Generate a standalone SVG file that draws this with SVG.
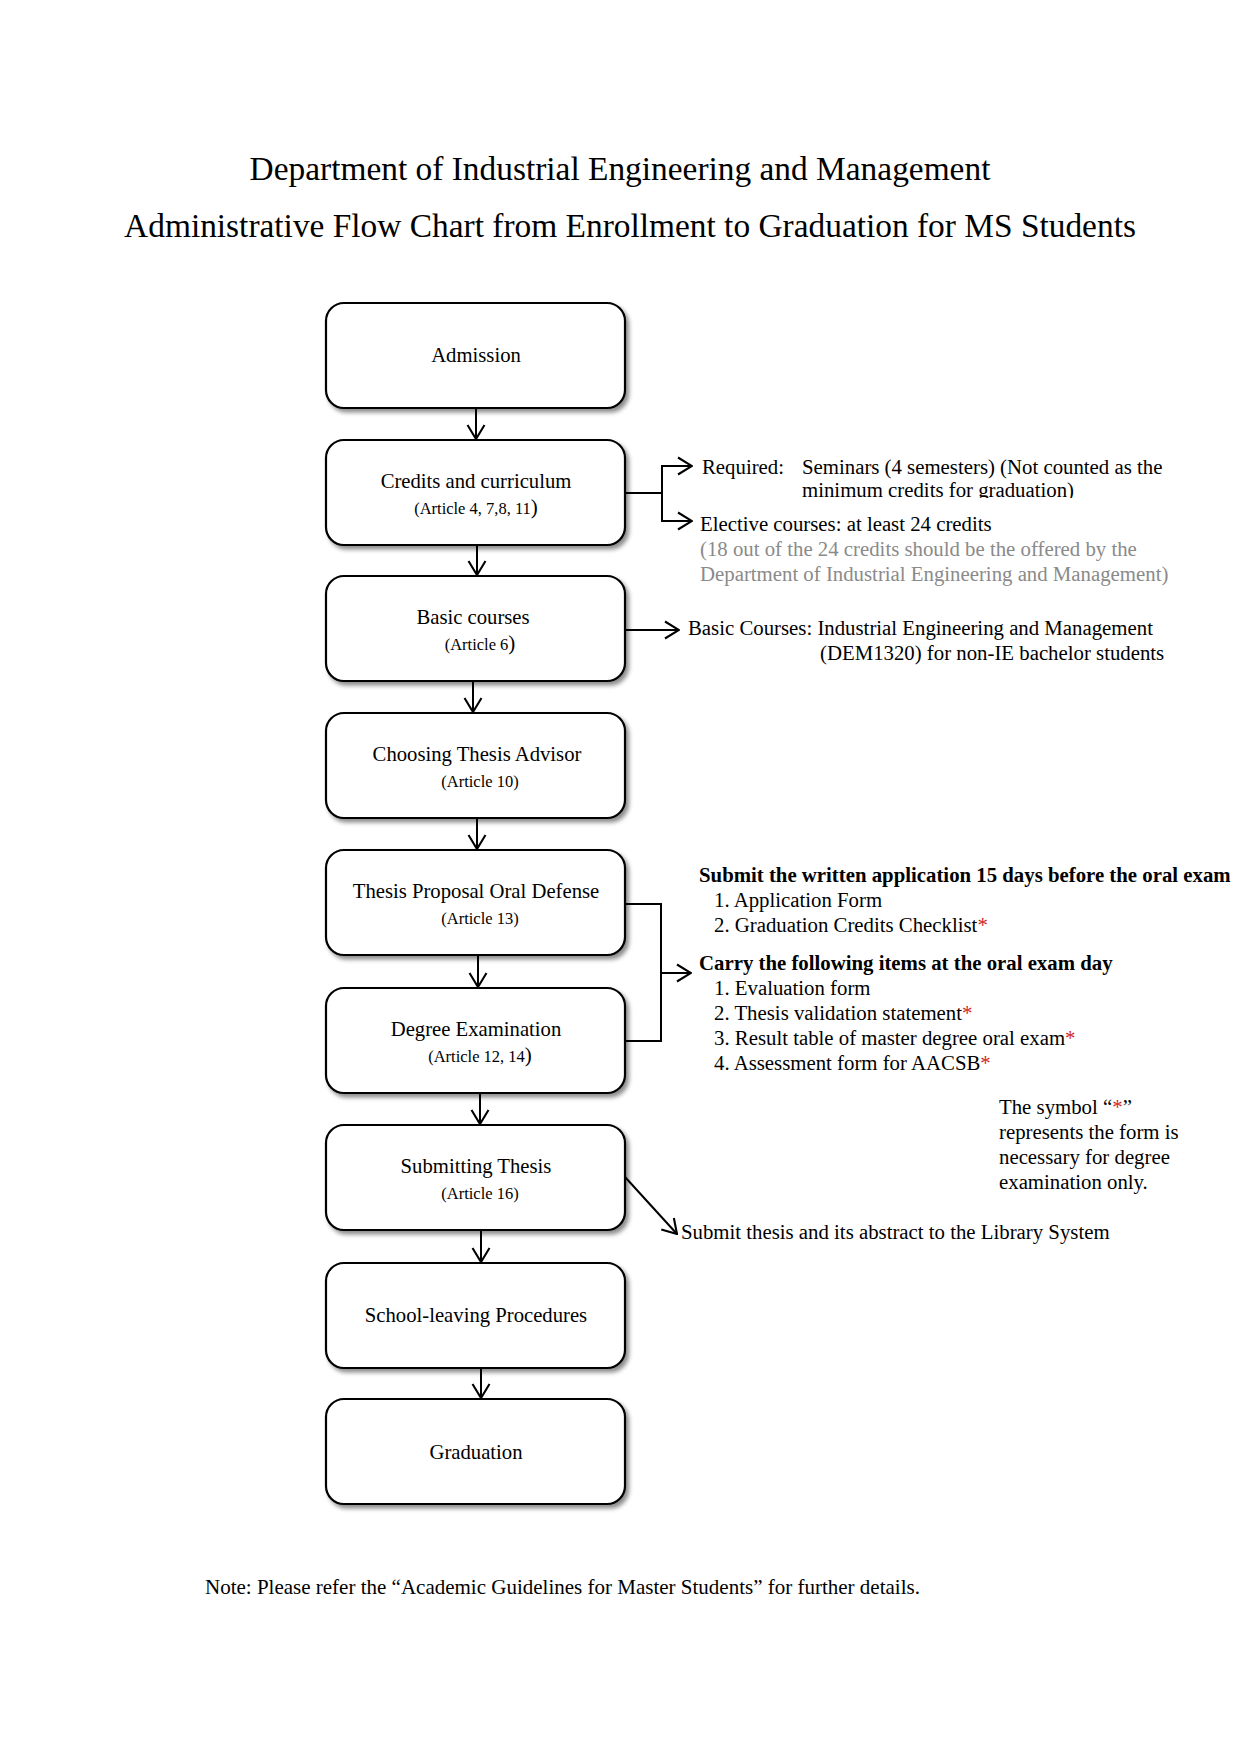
<svg xmlns="http://www.w3.org/2000/svg" width="1241" height="1755" viewBox="0 0 1241 1755">
<style>
text{font-family:"Liberation Serif","Times New Roman",serif;fill:#000}
.title{font-size:33.4px;text-anchor:middle}
.bt{font-size:20.7px;text-anchor:middle}
.st{font-size:16.5px;text-anchor:middle}
.bp{font-size:21px}
.tx{font-size:20.8px}
.b{font-weight:bold}
.gray{fill:#8a8a8a}
.red{fill:#d21f1f}
.box{fill:#fff;stroke:#000;stroke-width:2.2;filter:url(#sh)}
.ln{fill:none;stroke:#000;stroke-width:2}
</style>
<defs>
<filter id="sh" x="-10%" y="-10%" width="125%" height="130%">
<feDropShadow dx="3" dy="3.5" stdDeviation="2" flood-color="#000" flood-opacity="0.45"/>
</filter>
<marker id="ah" viewBox="0 0 16 20" refX="15" refY="10" markerWidth="16" markerHeight="20" markerUnits="userSpaceOnUse" orient="auto">
<path d="M1,1.5 L15,10 L1,18.5" fill="none" stroke="#000" stroke-width="2.1"/>
</marker>
<clipPath id="cl"><rect x="790" y="478" width="420" height="20"/></clipPath>
</defs>
<rect width="1241" height="1755" fill="#fff"/>

<g id="title">
<text class="title" x="620" y="180">Department of Industrial Engineering and Management</text>
<text class="title" x="630" y="237">Administrative Flow Chart from Enrollment to Graduation for MS Students</text>
</g>

<g id="connectors">
<line class="ln" x1="476" y1="408" x2="476" y2="439" marker-end="url(#ah)"/>
<line class="ln" x1="477" y1="545" x2="477" y2="575" marker-end="url(#ah)"/>
<line class="ln" x1="473" y1="681" x2="473" y2="712" marker-end="url(#ah)"/>
<line class="ln" x1="477" y1="818" x2="477" y2="849" marker-end="url(#ah)"/>
<line class="ln" x1="478" y1="955" x2="478" y2="987" marker-end="url(#ah)"/>
<line class="ln" x1="480" y1="1093" x2="480" y2="1124" marker-end="url(#ah)"/>
<line class="ln" x1="481" y1="1230" x2="481" y2="1262" marker-end="url(#ah)"/>
<line class="ln" x1="481" y1="1368" x2="481" y2="1398" marker-end="url(#ah)"/>
<polyline class="ln" points="625,493 662,493"/>
<polyline class="ln" points="692,466 662,466 662,521 692,521"/>
<line class="ln" x1="662" y1="466" x2="692" y2="466" marker-end="url(#ah)"/>
<line class="ln" x1="662" y1="521" x2="692" y2="521" marker-end="url(#ah)"/>
<line class="ln" x1="625" y1="630" x2="679" y2="630" marker-end="url(#ah)"/>
<polyline class="ln" points="625,904 661,904 661,1041 625,1041"/>
<line class="ln" x1="661" y1="973" x2="691" y2="973" marker-end="url(#ah)"/>
<line class="ln" x1="625" y1="1177" x2="677" y2="1234" marker-end="url(#ah)"/>
</g>

<g id="admission">
<rect class="box" x="326" y="303" width="299" height="105" rx="18"/>
<text class="bt" x="476" y="362">Admission</text>
</g>
<g id="credits">
<rect class="box" x="326" y="440" width="299" height="105" rx="18"/>
<text class="bt" x="476" y="488">Credits and curriculum</text>
<text class="st" x="476" y="514">(Article 4, 7,8, 11<tspan class="bp">)</tspan></text>
</g>
<g id="basic">
<rect class="box" x="326" y="576" width="299" height="105" rx="18"/>
<text class="bt" x="473" y="624">Basic courses</text>
<text class="st" x="480" y="650">(Article 6<tspan class="bp">)</tspan></text>
</g>
<g id="advisor">
<rect class="box" x="326" y="713" width="299" height="105" rx="18"/>
<text class="bt" x="477" y="761">Choosing Thesis Advisor</text>
<text class="st" x="480" y="787">(Article 10)</text>
</g>
<g id="proposal">
<rect class="box" x="326" y="850" width="299" height="105" rx="18"/>
<text class="bt" x="476" y="898">Thesis Proposal Oral Defense</text>
<text class="st" x="480" y="924">(Article 13)</text>
</g>
<g id="degree">
<rect class="box" x="326" y="988" width="299" height="105" rx="18"/>
<text class="bt" x="476" y="1036">Degree Examination</text>
<text class="st" x="480" y="1062">(Article 12, 14<tspan class="bp">)</tspan></text>
</g>
<g id="submitting">
<rect class="box" x="326" y="1125" width="299" height="105" rx="18"/>
<text class="bt" x="476" y="1173">Submitting Thesis</text>
<text class="st" x="480" y="1199">(Article 16)</text>
</g>
<g id="leaving">
<rect class="box" x="326" y="1263" width="299" height="105" rx="18"/>
<text class="bt" x="476" y="1322">School-leaving Procedures</text>
</g>
<g id="graduation">
<rect class="box" x="326" y="1399" width="299" height="105" rx="18"/>
<text class="bt" x="476" y="1459">Graduation</text>
</g>

<g id="credits-notes">
<text class="tx" x="702" y="474">Required:</text>
<text class="tx" x="802" y="474">Seminars (4 semesters) (Not counted as the</text>
<text class="tx" x="802" y="497" clip-path="url(#cl)">minimum credits for graduation)</text>
<text class="tx" x="700" y="531">Elective courses: at least 24 credits</text>
<text class="tx gray" x="700" y="556">(18 out of the 24 credits should be the offered by the</text>
<text class="tx gray" x="700" y="581">Department of Industrial Engineering and Management)</text>
</g>
<g id="basic-notes">
<text class="tx" x="688" y="635">Basic Courses: Industrial Engineering and Management</text>
<text class="tx" x="820" y="660">(DEM1320) for non-IE bachelor students</text>
</g>
<g id="exam-notes">
<text class="tx b" x="699" y="882">Submit the written application 15 days before the oral exam</text>
<text class="tx" x="714" y="907">1. Application Form</text>
<text class="tx" x="714" y="932">2. Graduation Credits Checklist<tspan class="red">*</tspan></text>
<text class="tx b" x="699" y="970">Carry the following items at the oral exam day</text>
<text class="tx" x="714" y="995">1. Evaluation form</text>
<text class="tx" x="714" y="1020">2. Thesis validation statement<tspan class="red">*</tspan></text>
<text class="tx" x="714" y="1045">3. Result table of master degree oral exam<tspan class="red">*</tspan></text>
<text class="tx" x="714" y="1070">4. Assessment form for AACSB<tspan class="red">*</tspan></text>
</g>
<g id="symbol-note">
<text class="tx" x="999" y="1114">The symbol “<tspan class="red">*</tspan>”</text>
<text class="tx" x="999" y="1139">represents the form is</text>
<text class="tx" x="999" y="1164">necessary for degree</text>
<text class="tx" x="999" y="1189">examination only.</text>
</g>
<g id="library-note">
<text class="tx" x="681" y="1239">Submit thesis and its abstract to the Library System</text>
</g>
<g id="footer">
<text class="tx" x="205" y="1594" style="font-size:21px">Note: Please refer the “Academic Guidelines for Master Students” for further details.</text>
</g>
</svg>
